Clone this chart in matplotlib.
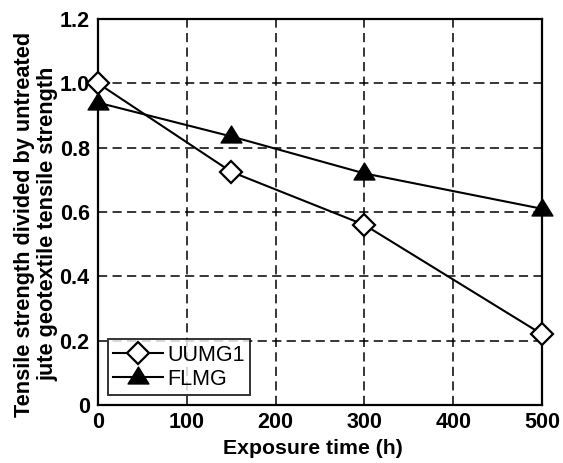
import matplotlib
matplotlib.use("Agg")
import matplotlib.pyplot as plt
from matplotlib.path import Path

plt.rcParams['font.family'] = ['Liberation Sans', 'DejaVu Sans']

exposure_h = [0, 150, 300, 500]
uumg1 = [1.00, 0.725, 0.56, 0.22]
flmg = [0.94, 0.835, 0.72, 0.61]
x_ticks = [0, 100, 200, 300, 400, 500]
y_ticks = [0, 0.2, 0.4, 0.6, 0.8, 1.0, 1.2]
y_tick_labels = ["0", "0.2", "0.4", "0.6", "0.8", "1.0", "1.2"]

# equilateral-looking filled triangle
tri = Path([(-1, -0.62), (1, -0.62), (0, 1.0), (-1, -0.62)],
           [Path.MOVETO, Path.LINETO, Path.LINETO, Path.CLOSEPOLY])

fig = plt.figure(figsize=(5.63, 4.63), dpi=100)
ax = fig.add_axes([98 / 563, 1 - 405 / 463, 444 / 563, 386 / 463])

ax.plot(exposure_h, uumg1, color='black', lw=1.5, marker='D', markersize=11.5,
        markerfacecolor='white', markeredgecolor='black', markeredgewidth=1.6,
        label='UUMG1', zorder=3, clip_on=False)
ax.plot(exposure_h, flmg, color='black', lw=1.5, marker=tri, markersize=15,
        markerfacecolor='black', markeredgecolor='black', markeredgewidth=1,
        label='FLMG', zorder=3, clip_on=False)

ax.set_xlim(0, 500)
ax.set_ylim(0, 1.2)
ax.set_xticks(x_ticks)
ax.set_yticks(y_ticks)
ax.set_yticklabels(y_tick_labels)
ax.tick_params(axis='x', length=0, labelsize=15.5, pad=5)
ax.tick_params(axis='y', length=0, labelsize=15.5, pad=6)
for lbl in ax.get_xticklabels() + ax.get_yticklabels():
    lbl.set_fontweight('bold')

ax.grid(True, color='black', linestyle=(0, (6, 3.5)), lw=1.1)
for s in ax.spines.values():
    s.set_linewidth(1.6)

ax.set_xlabel('Exposure time (h)', fontsize=15.3, fontweight='bold')
ax.xaxis.set_label_coords(0.484, -0.089)
ax.set_ylabel('Tensile strength divided by untreated\njute geotextile tensile strength',
              fontsize=15.7, fontweight='bold', linespacing=1.15)
ax.yaxis.set_label_coords(-0.090, 0.469)

leg = ax.legend(loc='lower left', bbox_to_anchor=(0.0, 0.0), fontsize=15.5,
                frameon=True, fancybox=False, edgecolor='black',
                handlelength=2.3, handletextpad=0.2, borderpad=0.25,
                labelspacing=0.15, borderaxespad=0.45)
leg.get_frame().set_linewidth(1.4)

fig.savefig('out.png', dpi=100)
